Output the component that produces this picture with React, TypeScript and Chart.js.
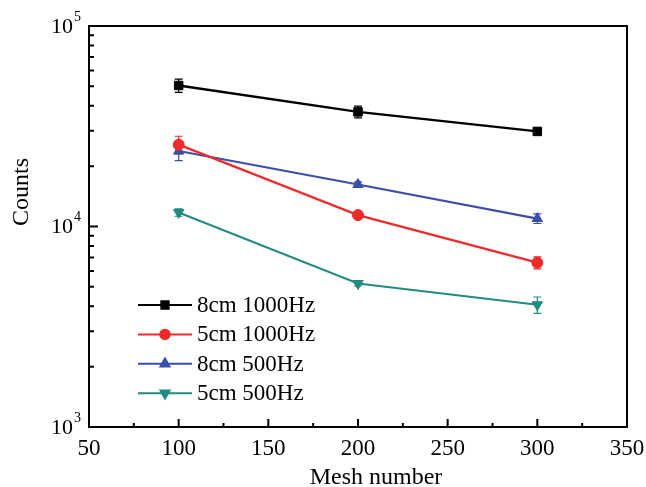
import { useEffect, useRef } from "react";
import { Chart, registerables } from "chart.js";
import { drawPoint } from "chart.js/helpers";

Chart.register(...registerables);

// Mesh numbers on the x axis
const meshNumbers = [100, 200, 300];

// Series names
const seriesLabels = ["8cm 1000Hz", "5cm 1000Hz", "8cm 500Hz", "5cm 500Hz"];

// Counts and symmetric errors per series
const counts8cm1000Hz = [50500, 37300, 29800];
const err8cm1000Hz = [3800, 2500, 600];
const counts5cm1000Hz = [25600, 11400, 6600];
const err5cm1000Hz = [2600, 400, 450];
const counts8cm500Hz = [23800, 16200, 10950];
const err8cm500Hz = [2500, 500, 600];
const counts5cm500Hz = [11750, 5200, 4070];
const err5cm500Hz = [500, 150, 380];

// Axis ticks
const xMajorTicks = [50, 100, 150, 200, 250, 300, 350];
const xMinorTicks = [75, 125, 175, 225, 275, 325];
const yDecades = [3, 4, 5];

const SERIF = '"Liberation Serif", "DejaVu Serif", serif';

const colors = ["#000000", "#ee2a2a", "#3b4fa8", "#1f8c80"];
const lineWidths = [2.4, 2.2, 2.2, 2];
const pointStyles = ["rect", "circle", "triangle", "triangle"];
const pointRotations = [0, 0, 0, 180];
const pointRadii = [6, 5.5, 6, 6];
const seriesValues = [counts8cm1000Hz, counts5cm1000Hz, counts8cm500Hz, counts5cm500Hz];
const seriesErrors = [err8cm1000Hz, err5cm1000Hz, err8cm500Hz, err5cm500Hz];

const decorPlugin = {
  id: "decor",
  beforeDatasetsDraw(chart: any) {
    const ctx = chart.ctx;
    const xs = chart.scales.x;
    const ys = chart.scales.y;
    ctx.save();
    ctx.lineWidth = 1.2;
    seriesErrors.forEach((errs, i) => {
      ctx.strokeStyle = colors[i];
      meshNumbers.forEach((m, j) => {
        const v = seriesValues[i][j];
        const e = errs[j];
        const px = xs.getPixelForValue(m);
        const top = ys.getPixelForValue(v + e);
        const bot = ys.getPixelForValue(v - e);
        ctx.beginPath();
        ctx.moveTo(px, top);
        ctx.lineTo(px, bot);
        ctx.moveTo(px - 4, top);
        ctx.lineTo(px + 4, top);
        ctx.moveTo(px - 4, bot);
        ctx.lineTo(px + 4, bot);
        ctx.stroke();
      });
    });
    ctx.restore();
  },
  afterDraw(chart: any) {
    const ctx = chart.ctx;
    const { left, right, top, bottom } = chart.chartArea;
    const xs = chart.scales.x;
    const ys = chart.scales.y;
    ctx.save();
    ctx.strokeStyle = "#000";
    ctx.fillStyle = "#000";
    ctx.lineWidth = 2;
    // frame
    ctx.strokeRect(left, top, right - left, bottom - top);
    // x ticks (inward, bottom axis)
    ctx.beginPath();
    xMajorTicks.forEach((t) => {
      const px = xs.getPixelForValue(t);
      ctx.moveTo(px, bottom);
      ctx.lineTo(px, bottom - 8);
    });
    xMinorTicks.forEach((t) => {
      const px = xs.getPixelForValue(t);
      ctx.moveTo(px, bottom);
      ctx.lineTo(px, bottom - 4);
    });
    // y ticks (inward, left axis)
    yDecades.forEach((d) => {
      const py = ys.getPixelForValue(Math.pow(10, d));
      ctx.moveTo(left, py);
      ctx.lineTo(left + 9, py);
      if (d < 5) {
        for (let k = 2; k <= 9; k++) {
          const pm = ys.getPixelForValue(k * Math.pow(10, d));
          ctx.moveTo(left, pm);
          ctx.lineTo(left + 5, pm);
        }
      }
    });
    ctx.stroke();

    // x tick labels
    ctx.font = `23px ${SERIF}`;
    ctx.textAlign = "center";
    ctx.textBaseline = "middle";
    xMajorTicks.forEach((t) => {
      ctx.fillText(String(t), xs.getPixelForValue(t), bottom + 22);
    });

    // y tick labels: 10 with superscript exponent
    yDecades.forEach((d) => {
      const py = ys.getPixelForValue(Math.pow(10, d));
      ctx.font = `22px ${SERIF}`;
      ctx.textAlign = "right";
      ctx.textBaseline = "middle";
      ctx.fillText("10", left - 16, py + 1);
      ctx.font = `14px ${SERIF}`;
      ctx.textAlign = "left";
      ctx.fillText(String(d), left - 15, py - 9);
    });

    // axis titles
    ctx.font = `24px ${SERIF}`;
    ctx.textAlign = "center";
    ctx.textBaseline = "middle";
    ctx.fillText("Mesh number", 376, bottom + 51);
    ctx.save();
    ctx.translate(22, 192);
    ctx.rotate(-Math.PI / 2);
    ctx.fillText("Counts", 0, 0);
    ctx.restore();

    // legend
    const legendX0 = 138;
    const legendX1 = 192;
    const legendY0 = 305;
    const rowGap = 29.4;
    seriesLabels.forEach((label, i) => {
      const y = legendY0 + i * rowGap;
      ctx.strokeStyle = colors[i];
      ctx.fillStyle = colors[i];
      ctx.lineWidth = 2;
      ctx.beginPath();
      ctx.moveTo(legendX0, y);
      ctx.lineTo(legendX1, y);
      ctx.stroke();
      drawPoint(
        ctx,
        {
          pointStyle: pointStyles[i] as any,
          rotation: pointRotations[i],
          radius: pointRadii[i] - 0.8,
          borderWidth: 1,
        } as any,
        (legendX0 + legendX1) / 2,
        y
      );
      ctx.fillStyle = "#000";
      ctx.font = `23px ${SERIF}`;
      ctx.textAlign = "left";
      ctx.textBaseline = "middle";
      ctx.fillText(label, 197, y + 1);
    });
    ctx.restore();
  },
};

export default function App() {
  const canvasRef = useRef<HTMLCanvasElement | null>(null);

  useEffect(() => {
    if (!canvasRef.current) return;
    const datasets = seriesLabels.map((label, i) => ({
      label,
      data: meshNumbers.map((m, j) => ({ x: m, y: seriesValues[i][j] })),
      borderColor: colors[i],
      backgroundColor: colors[i],
      borderWidth: lineWidths[i],
      pointStyle: pointStyles[i] as any,
      pointRotation: pointRotations[i],
      pointRadius: pointRadii[i],
      pointBorderWidth: 1,
      tension: 0,
    }));
    const chart = new Chart(canvasRef.current, {
      type: "line",
      data: { datasets },
      options: {
        animation: false,
        responsive: false,
        maintainAspectRatio: false,
        layout: { padding: { left: 89, right: 19, top: 26, bottom: 60 } },
        plugins: { legend: { display: false }, tooltip: { enabled: false } },
        scales: {
          x: {
            type: "linear",
            min: 50,
            max: 350,
            grid: { display: false, drawTicks: false },
            border: { display: false },
            ticks: { display: false },
            afterFit: (s: any) => {
              s.height = 0;
            },
          },
          y: {
            type: "logarithmic",
            min: 1000,
            max: 100000,
            grid: { display: false, drawTicks: false },
            border: { display: false },
            ticks: { display: false },
            afterFit: (s: any) => {
              s.width = 0;
            },
          },
        },
      },
      plugins: [decorPlugin],
    });
    return () => chart.destroy();
  }, []);

  return (
    <div style={{ position: "fixed", left: 0, top: 0, width: 646, height: 487, background: "#fff" }}>
      <canvas ref={canvasRef} width={646} height={487} style={{ width: 646, height: 487 }} />
    </div>
  );
}
